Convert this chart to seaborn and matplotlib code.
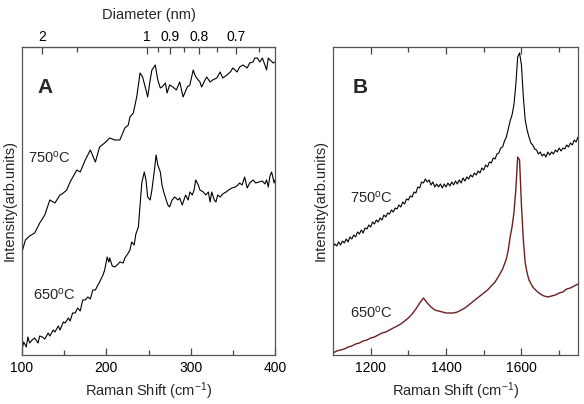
import matplotlib
matplotlib.use("Agg")
import matplotlib.pyplot as plt
from matplotlib.ticker import FixedLocator, NullFormatter
import seaborn as sns

# panel A: radial breathing mode region (cm-1 vs arb. intensity)
rbm_750_shift = [100, 104, 109, 115, 121, 127, 133, 139, 145, 149, 153, 157, 165, 169, 175, 181,
                 187, 192, 198, 204, 210, 216, 222, 226, 228, 232, 236, 240, 243, 247, 249, 252,
                 254, 258, 261, 264, 266, 270, 272, 275, 279, 283, 287, 291, 296, 299, 303, 305,
                 307, 311, 313, 317, 319, 323, 326, 331, 335, 338, 343, 347, 350, 355, 358, 362,
                 367, 370, 374, 376, 379, 382, 385, 388, 390, 392, 394, 398, 400]
rbm_750_int = [103, 115, 119, 122, 132, 140, 155, 152, 160, 162, 165, 173, 185, 183, 195, 205,
               193, 208, 212, 217, 215, 215, 227, 230, 238, 242, 258, 282, 278, 265, 258, 275,
               285, 290, 275, 267, 268, 272, 262, 270, 268, 265, 273, 258, 268, 270, 285, 280,
               277, 273, 268, 275, 278, 273, 275, 277, 283, 277, 280, 283, 287, 283, 288, 290,
               287, 292, 293, 297, 297, 293, 297, 290, 285, 297, 295, 292, 293]

rbm_650_shift = [100, 102, 105, 107, 109, 112, 115, 119, 121, 124, 127, 131, 133, 137, 139, 143,
                 145, 149, 151, 155, 157, 160, 163, 166, 169, 172, 175, 178, 181, 184, 187, 190,
                 192, 196, 198, 201, 203, 204, 207, 210, 214, 216, 220, 222, 226, 228, 230, 233,
                 235, 238, 240, 242, 245, 247, 249, 252, 254, 257, 259, 261, 264, 266, 268, 271,
                 273, 275, 278, 281, 285, 287, 290, 292, 294, 297, 299, 302, 304, 306, 309, 311,
                 315, 318, 321, 323, 325, 328, 330, 332, 335, 338, 342, 345, 349, 353, 356, 358,
                 361, 364, 367, 370, 374, 377, 381, 385, 388, 390, 392, 394, 396, 399, 400]
rbm_650_int = [5, 13, 8, 18, 12, 15, 17, 12, 19, 18, 16, 22, 19, 25, 23, 29,
               25, 33, 32, 37, 34, 42, 42, 47, 44, 55, 55, 58, 56, 65, 65, 70,
               73, 80, 85, 98, 93, 97, 89, 88, 91, 93, 92, 97, 102, 105, 113, 110,
               121, 128, 150, 172, 183, 175, 158, 155, 165, 185, 200, 190, 183, 170, 163, 155,
               150, 148, 155, 158, 155, 157, 150, 155, 160, 155, 163, 160, 165, 175, 170, 165,
               163, 160, 163, 153, 163, 155, 153, 160, 158, 161, 163, 165, 167, 168, 170, 172,
               170, 178, 167, 172, 175, 172, 173, 174, 171, 175, 168, 179, 183, 172, 175]

# panel B: D and G band region
dg_750_shift = [1100, 1105, 1110, 1115, 1120, 1125, 1130, 1135, 1140, 1145, 1150, 1155, 1160,
                1165, 1170, 1175, 1180, 1185, 1190, 1195, 1200, 1205, 1210, 1215, 1220, 1225,
                1230, 1235, 1240, 1245, 1250, 1255, 1260, 1265, 1270, 1275, 1280, 1285, 1290,
                1295, 1300, 1305, 1310, 1315, 1320, 1325, 1330, 1335, 1340, 1345, 1350, 1355,
                1360, 1365, 1370, 1375, 1380, 1385, 1390, 1395, 1400, 1405, 1410, 1415, 1420,
                1425, 1430, 1435, 1440, 1445, 1450, 1455, 1460, 1465, 1470, 1475, 1480, 1485,
                1490, 1495, 1500, 1505, 1510, 1515, 1520, 1525, 1530, 1535, 1540, 1545, 1550,
                1555, 1560, 1565, 1570, 1575, 1580, 1585, 1590, 1595, 1600, 1605, 1610, 1615,
                1620, 1625, 1630, 1635, 1640, 1645, 1650, 1655, 1660, 1665, 1670, 1675, 1680,
                1685, 1690, 1695, 1700, 1705, 1710, 1715, 1720, 1725, 1730, 1735, 1740, 1745,
                1750]
dg_750_int = [108, 111, 109, 113, 110, 114, 112, 116, 113, 118, 116, 120, 118,
              123, 121, 125, 122, 127, 126, 130, 128, 133, 131, 135, 133, 137,
              135, 140, 138, 142, 141, 145, 143, 147, 146, 150, 148, 153, 151,
              156, 155, 159, 158, 163, 162, 168, 167, 173, 172, 176, 173, 175,
              170, 173, 168, 171, 168, 171, 167, 171, 168, 172, 169, 173, 170,
              174, 171, 175, 172, 177, 174, 178, 176, 180, 178, 182, 180, 184,
              182, 187, 185, 190, 188, 193, 192, 197, 196, 201, 202, 207, 208,
              214, 218, 226, 234, 240, 250, 270, 298, 302, 290, 258, 235, 225,
              218, 212, 210, 206, 205, 201, 203, 199, 201, 198, 203, 200, 203,
              201, 205, 203, 207, 204, 207, 206, 210, 208, 212, 210, 215, 213,
              218]

dg_650_shift = [1100, 1110, 1120, 1130, 1140, 1150, 1160, 1170, 1180, 1190, 1200, 1210, 1220,
                1230, 1240, 1250, 1260, 1270, 1280, 1290, 1300, 1310, 1320, 1330, 1340, 1350,
                1360, 1370, 1380, 1390, 1400, 1410, 1420, 1430, 1440, 1450, 1460, 1470, 1480,
                1490, 1500, 1510, 1520, 1530, 1540, 1550, 1560, 1565, 1570, 1575, 1580, 1585,
                1590, 1595, 1600, 1605, 1610, 1615, 1620, 1630, 1640, 1650, 1660, 1670, 1680,
                1690, 1700, 1710, 1720, 1730, 1740, 1750]
dg_650_int = [2, 4, 5, 6, 8, 9, 11, 12, 14, 15, 17, 18, 20,
              22, 23, 25, 27, 29, 31, 34, 37, 41, 46, 52, 57, 52,
              48, 45, 44, 43, 42, 42, 42, 43, 45, 47, 50, 53, 56,
              59, 62, 65, 69, 73, 79, 86, 96, 105, 118, 128, 142, 165,
              198, 195, 150, 115, 92, 82, 75, 68, 64, 61, 59, 58, 59,
              60, 62, 63, 66, 67, 69, 71]

diam_ticks = [2, 1, 0.9, 0.8, 0.7]
diam_minor = [1.5, 0.95, 0.85, 0.75, 0.65]

sns.set_style("ticks")
plt.rcParams["font.family"] = ["Liberation Sans", "DejaVu Sans"]
plt.rcParams["mathtext.fontset"] = "custom"
plt.rcParams["mathtext.rm"] = "Liberation Sans"
plt.rcParams["mathtext.it"] = "Liberation Sans:italic"

fig = plt.figure(figsize=(5.84, 4.04), dpi=100)
axA = fig.add_axes([0.0377, 0.1213, 0.4332, 0.7624])
axB = fig.add_axes([0.5702, 0.1213, 0.4195, 0.7624])

sns.lineplot(x=rbm_750_shift, y=rbm_750_int, ax=axA, color="black", lw=0.8)
sns.lineplot(x=rbm_650_shift, y=rbm_650_int, ax=axA, color="black", lw=0.8)
sns.lineplot(x=dg_750_shift, y=dg_750_int, ax=axB, color="black", lw=0.8)
sns.lineplot(x=dg_650_shift, y=dg_650_int, ax=axB, color="#6e1f1f", lw=1.0)

tick_col = "#444444"
for ax in (axA, axB):
    ax.set_ylim(0, 308)
    ax.set_yticks([])
    ax.set_ylabel("Intensity(arb.units)", fontsize=10.5)
    ax.set_xlabel("Raman Shift (cm$^{-1}$)", fontsize=10.5)
    for s in ax.spines.values():
        s.set_visible(True)
        s.set_color("#555555")
        s.set_linewidth(0.9)
    ax.tick_params(axis="x", which="both", direction="in", labelsize=10, color=tick_col,
                   width=0.9, labelcolor="black", pad=4)
    ax.tick_params(axis="x", which="major", length=5)
    ax.tick_params(axis="x", which="minor", length=3.5)

axA.set_xlim(100, 400)
axA.set_xticks([100, 200, 300, 400])
axA.xaxis.set_minor_locator(FixedLocator([150, 250, 350]))

top = axA.secondary_xaxis("top", functions=(lambda w: 248.0 / w, lambda d: 248.0 / d))
top.set_xticks(diam_ticks)
top.set_xticklabels([str(t) for t in diam_ticks])
top.xaxis.set_minor_locator(FixedLocator(diam_minor))
top.xaxis.set_minor_formatter(NullFormatter())
top.tick_params(which="both", direction="in", labelsize=10, color=tick_col, width=0.9,
                labelcolor="black", pad=2)
top.tick_params(which="major", length=5)
top.tick_params(which="minor", length=3.5)
top.set_xlabel("Diameter (nm)", fontsize=10.5, labelpad=8)

axB.set_xlim(1100, 1750)
axB.set_xticks([1200, 1400, 1600])
axB.xaxis.set_minor_locator(FixedLocator([1300, 1500, 1700]))
axB.tick_params(axis="x", which="both", top=True)

axA.text(0.06, 0.85, "A", transform=axA.transAxes, fontsize=15, fontweight="bold")
axB.text(0.08, 0.85, "B", transform=axB.transAxes, fontsize=15, fontweight="bold")
axA.text(0.025, 0.625, "750$^{\\rm o}$C", transform=axA.transAxes, fontsize=10.5)
axA.text(0.045, 0.18, "650$^{\\rm o}$C", transform=axA.transAxes, fontsize=10.5)
axB.text(0.07, 0.495, "750$^{\\rm o}$C", transform=axB.transAxes, fontsize=10.5)
axB.text(0.07, 0.12, "650$^{\\rm o}$C", transform=axB.transAxes, fontsize=10.5)

fig.savefig("out.png", dpi=100)
